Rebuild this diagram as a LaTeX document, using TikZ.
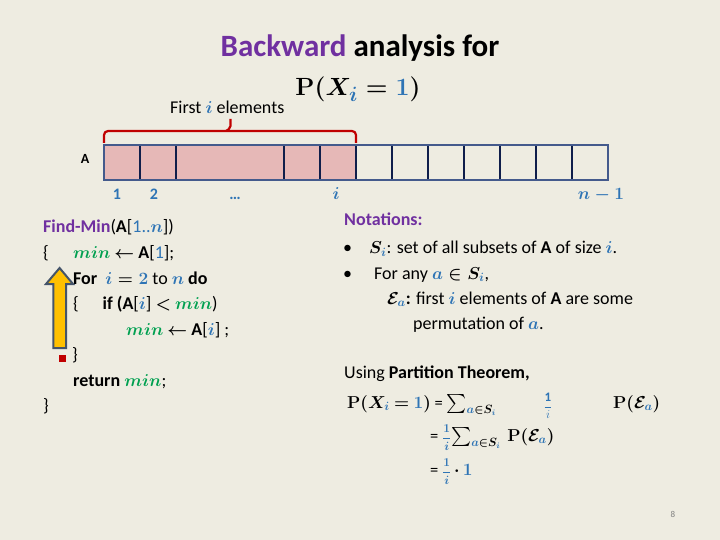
\documentclass[tikz,border=0pt]{standalone}
\usepackage{amsmath,amssymb}
\usepackage{fontspec}
\setmainfont{Carlito}
\definecolor{bgc}{RGB}{238,236,225}
\definecolor{purp}{RGB}{112,48,160}
\definecolor{mblue}{RGB}{46,116,181}
\definecolor{mgreen}{RGB}{0,160,80}
\definecolor{pinkf}{RGB}{230,184,183}
\definecolor{arrout}{RGB}{68,90,140}
\definecolor{arrin}{RGB}{15,30,75}
\definecolor{bracered}{RGB}{192,0,0}
\definecolor{yel}{RGB}{255,192,0}
\definecolor{arrbd}{RGB}{68,84,106}
\newcommand{\myi}{{\color{mblue}i}}
\newcommand{\myn}{{\color{mblue}n}}
\newcommand{\mymin}{{\color{mgreen}min}}
\newcommand{\mya}{{\color{mblue}a}}
\newcommand{\tightmath}{\thickmuskip=4mu\relax\medmuskip=3mu\relax}
\newcommand{\myfrac}{{\color{mblue}\fontsize{13}{15}\selectfont$\dfrac{\mathbf{1}}{i}$}}
\newcommand{\bigsum}{\mathop{\text{\fontsize{19}{22}\selectfont\boldmath$\sum$}}\nolimits}
\begin{document}
\begin{tikzpicture}[x=1pt,y=-1pt,
  txt/.style={inner sep=0pt,anchor=base west,font=\fontsize{18}{22}\selectfont\boldmath},
  eqn/.style={inner sep=0pt,anchor=base west,font=\fontsize{16.5}{20}\selectfont\boldmath},
  idx/.style={inner sep=0pt,anchor=base,text=mblue,font=\fontsize{16}{19}\selectfont\bfseries\boldmath}]
\useasboundingbox[fill=bgc] (0,0) rectangle (720,540);
% title
\node[inner sep=0pt,anchor=base,font=\fontsize{31}{36}\selectfont\bfseries] (title) at (360,57) {{\color{purp}Backward} analysis for};
\node[inner sep=0pt,anchor=base,font=\fontsize{29}{34}\selectfont\boldmath] (title2) at (358,96) {$\mathbf{P}(X_{\myi} = {\color{mblue}\mathbf{1}})$};
% array
\fill[pinkf] (104,145) rectangle (356,180);
\foreach \x in {140,176,284,320,356,392,428,464,500,536,572}
  \draw[arrin,line width=2.5pt] (\x,145) -- (\x,180);
\draw[arrout,line width=2.5pt] (104,145) rectangle (608,180);
\node[inner sep=0pt,font=\fontsize{14}{17}\selectfont\bfseries] (A) at (85,159) {A};
% brace
\draw[bracered,line width=2.2pt,rounded corners=4pt] (104,143) -- (104,131) -- (356,131) -- (356,143);
\draw[bracered,line width=2.2pt,rounded corners=2pt] (226,131) -- (230.5,128) -- (230.5,119);
\node[txt] (first) at (170,113.5) {First $\myi$ elements};
% indices
\node[idx] (i1) at (117,200) {1};
\node[idx] (i2) at (154,200) {2};
\node[idx] (idots) at (235,200) {…};
\node[idx] (ii) at (336,200) {$i$};
\node[idx] (inm) at (601,200) {$n-\mathbf{1}$};
% code
\node[txt] (c1) at (43,233) {{\color{purp}\textbf{Find-Min}}(\textbf{A}[{\color{mblue}1..$n$}])};
\node[txt] (c2a) at (43,258.5) {\{};
\node[txt] (c2) at (73,258.5) {$\mymin$ \textbf{$\leftarrow$ A}[{\color{mblue}1}];};
\node[txt] (c3) at (73,284) {\textbf{For} \ $\myi = {\color{mblue}\mathbf{2}}$ to $\myn$ \textbf{do}};
\node[txt] (c4a) at (73,309.5) {\{};
\node[txt] (c4) at (102.5,309.5) {\textbf{if (A}[$\myi$] $<$ $\mymin$)};
\node[txt] (c5) at (126,335) {$\mymin$ \textbf{$\leftarrow$ A}[$\myi$] ;};
\node[txt] (c6) at (72,360.5) {\}};
\node[txt] (c7) at (73,386) {\textbf{return} $\mymin$;};
\node[txt] (c8) at (43,411.5) {\}};
% arrow and marker
\draw[fill=yel,draw=arrbd,line width=2pt,line join=miter]
  (53.3,348) -- (53.3,284) -- (46,284) -- (59.6,268) -- (73,284) -- (66,284) -- (66,348) -- cycle;
\fill[bracered] (58.5,354.5) rectangle (65.5,361.5);
% notations
\node[txt] (n0) at (344,225.5) {\textbf{\color{purp}Notations:}};
\node[txt] (b1) at (343,254) {•};
\node[txt] (n1) at (369,254) {$S_{\myi}$: set of all subsets of \textbf{A} of size $\myi$.};
\node[txt] (b2) at (343,279) {•};
\node[txt] (n2) at (374,279) {For any $\mya \in S_{\myi}$,};
\node[txt] (n3) at (387,304) {$\mathcal{E}_{\mya}$\textbf{:} first $\myi$ elements of \textbf{A} are some};
\node[txt] (n4) at (413,329) {permutation of $\mya$.};
% partition theorem
\node[txt] (u0) at (344,378) {Using \textbf{Partition Theorem,}};
\node[eqn] (e1) at (347,408) {$\tightmath\mathbf{P}(X_{\myi} = {\color{mblue}\mathbf{1}})$ = $\bigsum_{\mya\in S_{\myi}}$};
\node[inner sep=0pt,anchor=base] (e1f) at (548,410) {\myfrac};
\node[eqn] (e1p) at (613,408) {$\mathbf{P}(\mathcal{E}_{\mya})$};
\node[eqn] (e2) at (430,441) {= \myfrac$\bigsum_{\mya\in S_{\myi}}$ \,$\mathbf{P}(\mathcal{E}_{\mya})$};
\node[eqn] (e3) at (430,475) {= \myfrac\,$\cdot\,{\color{mblue}\mathbf{1}}$};
% page number
\node[inner sep=0pt,font=\fontsize{9}{11}\selectfont,text=gray] (pg) at (673,514) {8};
\end{tikzpicture}
\end{document}
